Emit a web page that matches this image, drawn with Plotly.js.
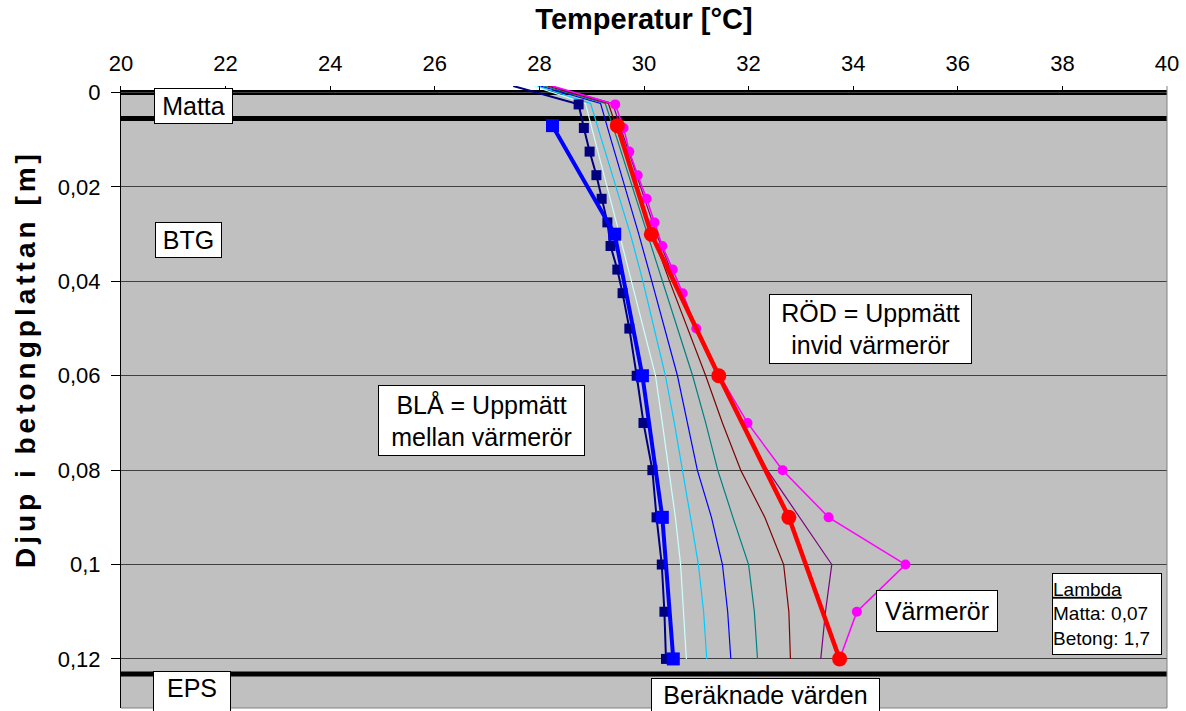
<!DOCTYPE html>
<html>
<head>
<meta charset="utf-8">
<script src="https://cdn.plot.ly/plotly-3.0.1.min.js"></script>
<style>
  html, body { margin: 0; padding: 0; background: #ffffff; }
  #chart { width: 1186px; height: 711px; }
</style>
</head>
<body>
<div id="chart"></div>
<script>
// ---------- Data ----------
// Depth grid (m) for the calculated curves ("Beräknade värden")
const calcDepth = [-0.0014, 0.0023, 0.01, 0.02, 0.03, 0.04, 0.05, 0.06, 0.07, 0.08, 0.09, 0.1, 0.11, 0.12];
const calcPaleCyan = [27.88, 28.88, 29.06, 29.30, 29.53, 29.76, 29.99, 30.22, 30.35, 30.47, 30.60, 30.70, 30.76, 30.81];
const calcCyan     = [27.96, 28.98, 29.19, 29.47, 29.74, 29.98, 30.20, 30.41, 30.58, 30.74, 30.89, 31.04, 31.14, 31.20];
const calcBlue     = [28.02, 29.17, 29.37, 29.64, 29.90, 30.15, 30.39, 30.64, 30.83, 31.02, 31.29, 31.50, 31.60, 31.66];
const calcTeal     = [28.08, 29.26, 29.49, 29.78, 30.07, 30.35, 30.64, 30.93, 31.18, 31.41, 31.70, 32.00, 32.11, 32.17];
const calcMaroon   = [28.15, 29.32, 29.55, 29.86, 30.16, 30.49, 30.83, 31.18, 31.50, 31.85, 32.31, 32.67, 32.77, 32.80];
const calcPurple   = [28.21, 29.40, 29.63, 29.93, 30.24, 30.60, 30.99, 31.41, 31.87, 32.36, 32.98, 33.59, 33.47, 33.38];

// Fine measured profiles (first value = surface, no marker)
const fineDepth = [-0.0014, 0.0025, 0.0075, 0.0125, 0.0175, 0.0225, 0.0275, 0.0325, 0.0375, 0.0425, 0.05, 0.06, 0.07, 0.08, 0.09, 0.1, 0.11, 0.12];
const navyTemp    = [27.50, 28.75, 28.85, 28.96, 29.09, 29.19, 29.30, 29.36, 29.49, 29.59, 29.72, 29.86, 29.99, 30.16, 30.24, 30.34, 30.39, 30.42];
const magentaTemp = [28.25, 29.45, 29.61, 29.72, 29.88, 30.05, 30.20, 30.35, 30.55, 30.74, 31.00, 31.45, 31.98, 32.65, 33.53, 35.00, 34.07, 33.74];

// Measured sensors
const sensorDepth = [0.007, 0.03, 0.06, 0.09, 0.12];
const blueMeasured = [28.25, 29.44, 29.97, 30.35, 30.56]; // BLÅ = mellan värmerör
const redMeasured  = [29.49, 30.14, 31.43, 32.77, 33.74]; // RÖD = invid värmerör

// Layer boundaries (m): top of Matta, Matta/BTG, BTG/EPS
const layerDepths = [0, 0.0055, 0.1232];

// Axis ticks
const xTickVals = [20, 22, 24, 26, 28, 30, 32, 34, 36, 38, 40];
const yTickVals = [0, 0.02, 0.04, 0.06, 0.08, 0.1, 0.12];
const yTickText = ["0", "0,02", "0,04", "0,06", "0,08", "0,1", "0,12"];

// ---------- Traces ----------
const FONT = "Liberation Sans, Arial, sans-serif";
function thin(x, color) {
  return { x: x, y: calcDepth, type: "scatter", mode: "lines",
           line: { color: color, width: 1.2 }, hoverinfo: "skip", showlegend: false };
}
const traces = [
  thin(calcPaleCyan, "#CCFFFF"),
  thin(calcCyan, "#00CCFF"),
  thin(calcBlue, "#0000FF"),
  thin(calcTeal, "#008080"),
  thin(calcMaroon, "#800000"),
  thin(calcPurple, "#800080"),
  { x: navyTemp, y: fineDepth, type: "scatter", mode: "lines+markers",
    line: { color: "#000080", width: 2 },
    marker: { symbol: "square", color: "#000080", opacity: 1,
              size: fineDepth.map((d, i) => i === 0 ? 0 : 10), line: { width: 0 } },
    showlegend: false },
  { x: blueMeasured, y: sensorDepth, type: "scatter", mode: "lines+markers",
    line: { color: "#0000FF", width: 4 },
    marker: { symbol: "square", color: "#0000FF", size: 13, opacity: 1, line: { width: 0 } }, showlegend: false },
  { x: magentaTemp, y: fineDepth, type: "scatter", mode: "lines+markers",
    line: { color: "#FF00FF", width: 1.5 },
    marker: { symbol: "circle", color: "#FF00FF", opacity: 1,
              size: fineDepth.map((d, i) => i === 0 ? 0 : 10), line: { width: 0 } },
    showlegend: false },
  { x: redMeasured, y: sensorDepth, type: "scatter", mode: "lines+markers",
    line: { color: "#FF0000", width: 4.5 },
    marker: { symbol: "circle", color: "#FF0000", size: 15, opacity: 1, line: { width: 0 } }, showlegend: false }
];

// ---------- Shapes ----------
const shapes = [
  { type: "rect", xref: "paper", x0: 0, x1: 1, yref: "y", y0: 0, y1: 0.2,
    fillcolor: "#C0C0C0", line: { width: 0 }, layer: "below" }
];
layerDepths.forEach(d => shapes.push({
  type: "line", xref: "paper", x0: 0, x1: 1, yref: "y", y0: d, y1: d,
  line: { color: "#000000", width: 5 }, layer: "below"
}));
shapes.push({ type: "line", xref: "paper", yref: "paper", x0: 1, x1: 1, y0: 0, y1: 1,
  line: { color: "#808080", width: 1 }, layer: "above" });
shapes.push({ type: "line", xref: "paper", yref: "paper", x0: 0, x1: 1, y0: 0, y1: 0,
  line: { color: "#808080", width: 1 }, layer: "above" });

// ---------- Text boxes ----------
function box(text, x, y, w, h, opts) {
  opts = opts || {};
  return { text: text, x: x, y: y, xref: "x", yref: "y", showarrow: false,
           xanchor: "center", yanchor: opts.yanchor || "middle", valign: opts.valign || "middle",
           width: w, height: h,
           align: opts.align || "center", bgcolor: "#FFFFFF", bordercolor: "#000000",
           borderwidth: 1, borderpad: opts.pad || 0,
           font: { family: FONT, size: opts.size || 25, color: "#000000" } };
}
const annotations = [
  box("Matta", 21.39, 0.00276, 77, 34),
  box("BTG", 21.29, 0.0312, 65, 34),
  box("BLÅ = Uppmätt<br>mellan värmerör", 26.90, 0.0694, 205, 69),
  box("RÖD = Uppmätt<br>invid värmerör", 34.34, 0.0500, 201, 68),
  box("Värmerör", 35.60, 0.1098, 120, 40),
  box("<u>Lambda</u><br>Matta: 0,07<br>Betong: 1,7", 38.85, 0.1105, 108, 80, { size: 19, align: "left" }),
  box("EPS", 21.36, 0.12254, 72, 44, { yanchor: "top", valign: "top", pad: 2 }),
  box("Beräknade värden", 32.33, 0.1240, 223, 44, { yanchor: "top", valign: "top", pad: 2 }),
  { text: "Djup i betongplattan [m]", xref: "paper", yref: "paper",
    x: -0.0918, y: 0.561, xanchor: "center", yanchor: "middle", textangle: -90,
    showarrow: false, font: { family: FONT, size: 28, weight: "bold", color: "#000000" } }
];

const layout = {
  width: 1186, height: 711,
  margin: { l: 121, r: 19, t: 86, b: 3, pad: 0 },
  paper_bgcolor: "#FFFFFF", plot_bgcolor: "#FFFFFF",
  font: { family: FONT, color: "#000000", size: 22 },
  showlegend: false,
  xaxis: {
    range: [20, 40], side: "top", tickvals: xTickVals,
    ticks: "inside", ticklen: 5, tickcolor: "#000000", tickwidth: 1,
    ticklabelstandoff: 10,
    showgrid: false, zeroline: false, showline: false,
    tickfont: { size: 22, family: FONT },
    title: { text: "Temperatur [°C]", font: { size: 29, family: FONT, weight: "bold" }, standoff: 12 }
  },
  yaxis: {
    range: [0.1304, -0.0014], tickvals: yTickVals, ticktext: yTickText,
    ticks: "outside", ticklen: 9, tickcolor: "#000000",
    ticklabelstandoff: 6,
    showgrid: true, gridcolor: "#404040", gridwidth: 1,
    zeroline: false, showline: true, linecolor: "#000000", linewidth: 1,
    tickfont: { size: 22, family: FONT }
  },
  shapes: shapes,
  annotations: annotations
};

Plotly.newPlot("chart", traces, layout, { displayModeBar: false, staticPlot: true }).then(gd => {
  // the original's vertical axis title is drawn stretched along its length
  gd.querySelectorAll(".annotation-text").forEach(t => {
    if (t.textContent.indexOf("Djup") === 0) t.style.letterSpacing = "4px";
  });
});
</script>
</body>
</html>
